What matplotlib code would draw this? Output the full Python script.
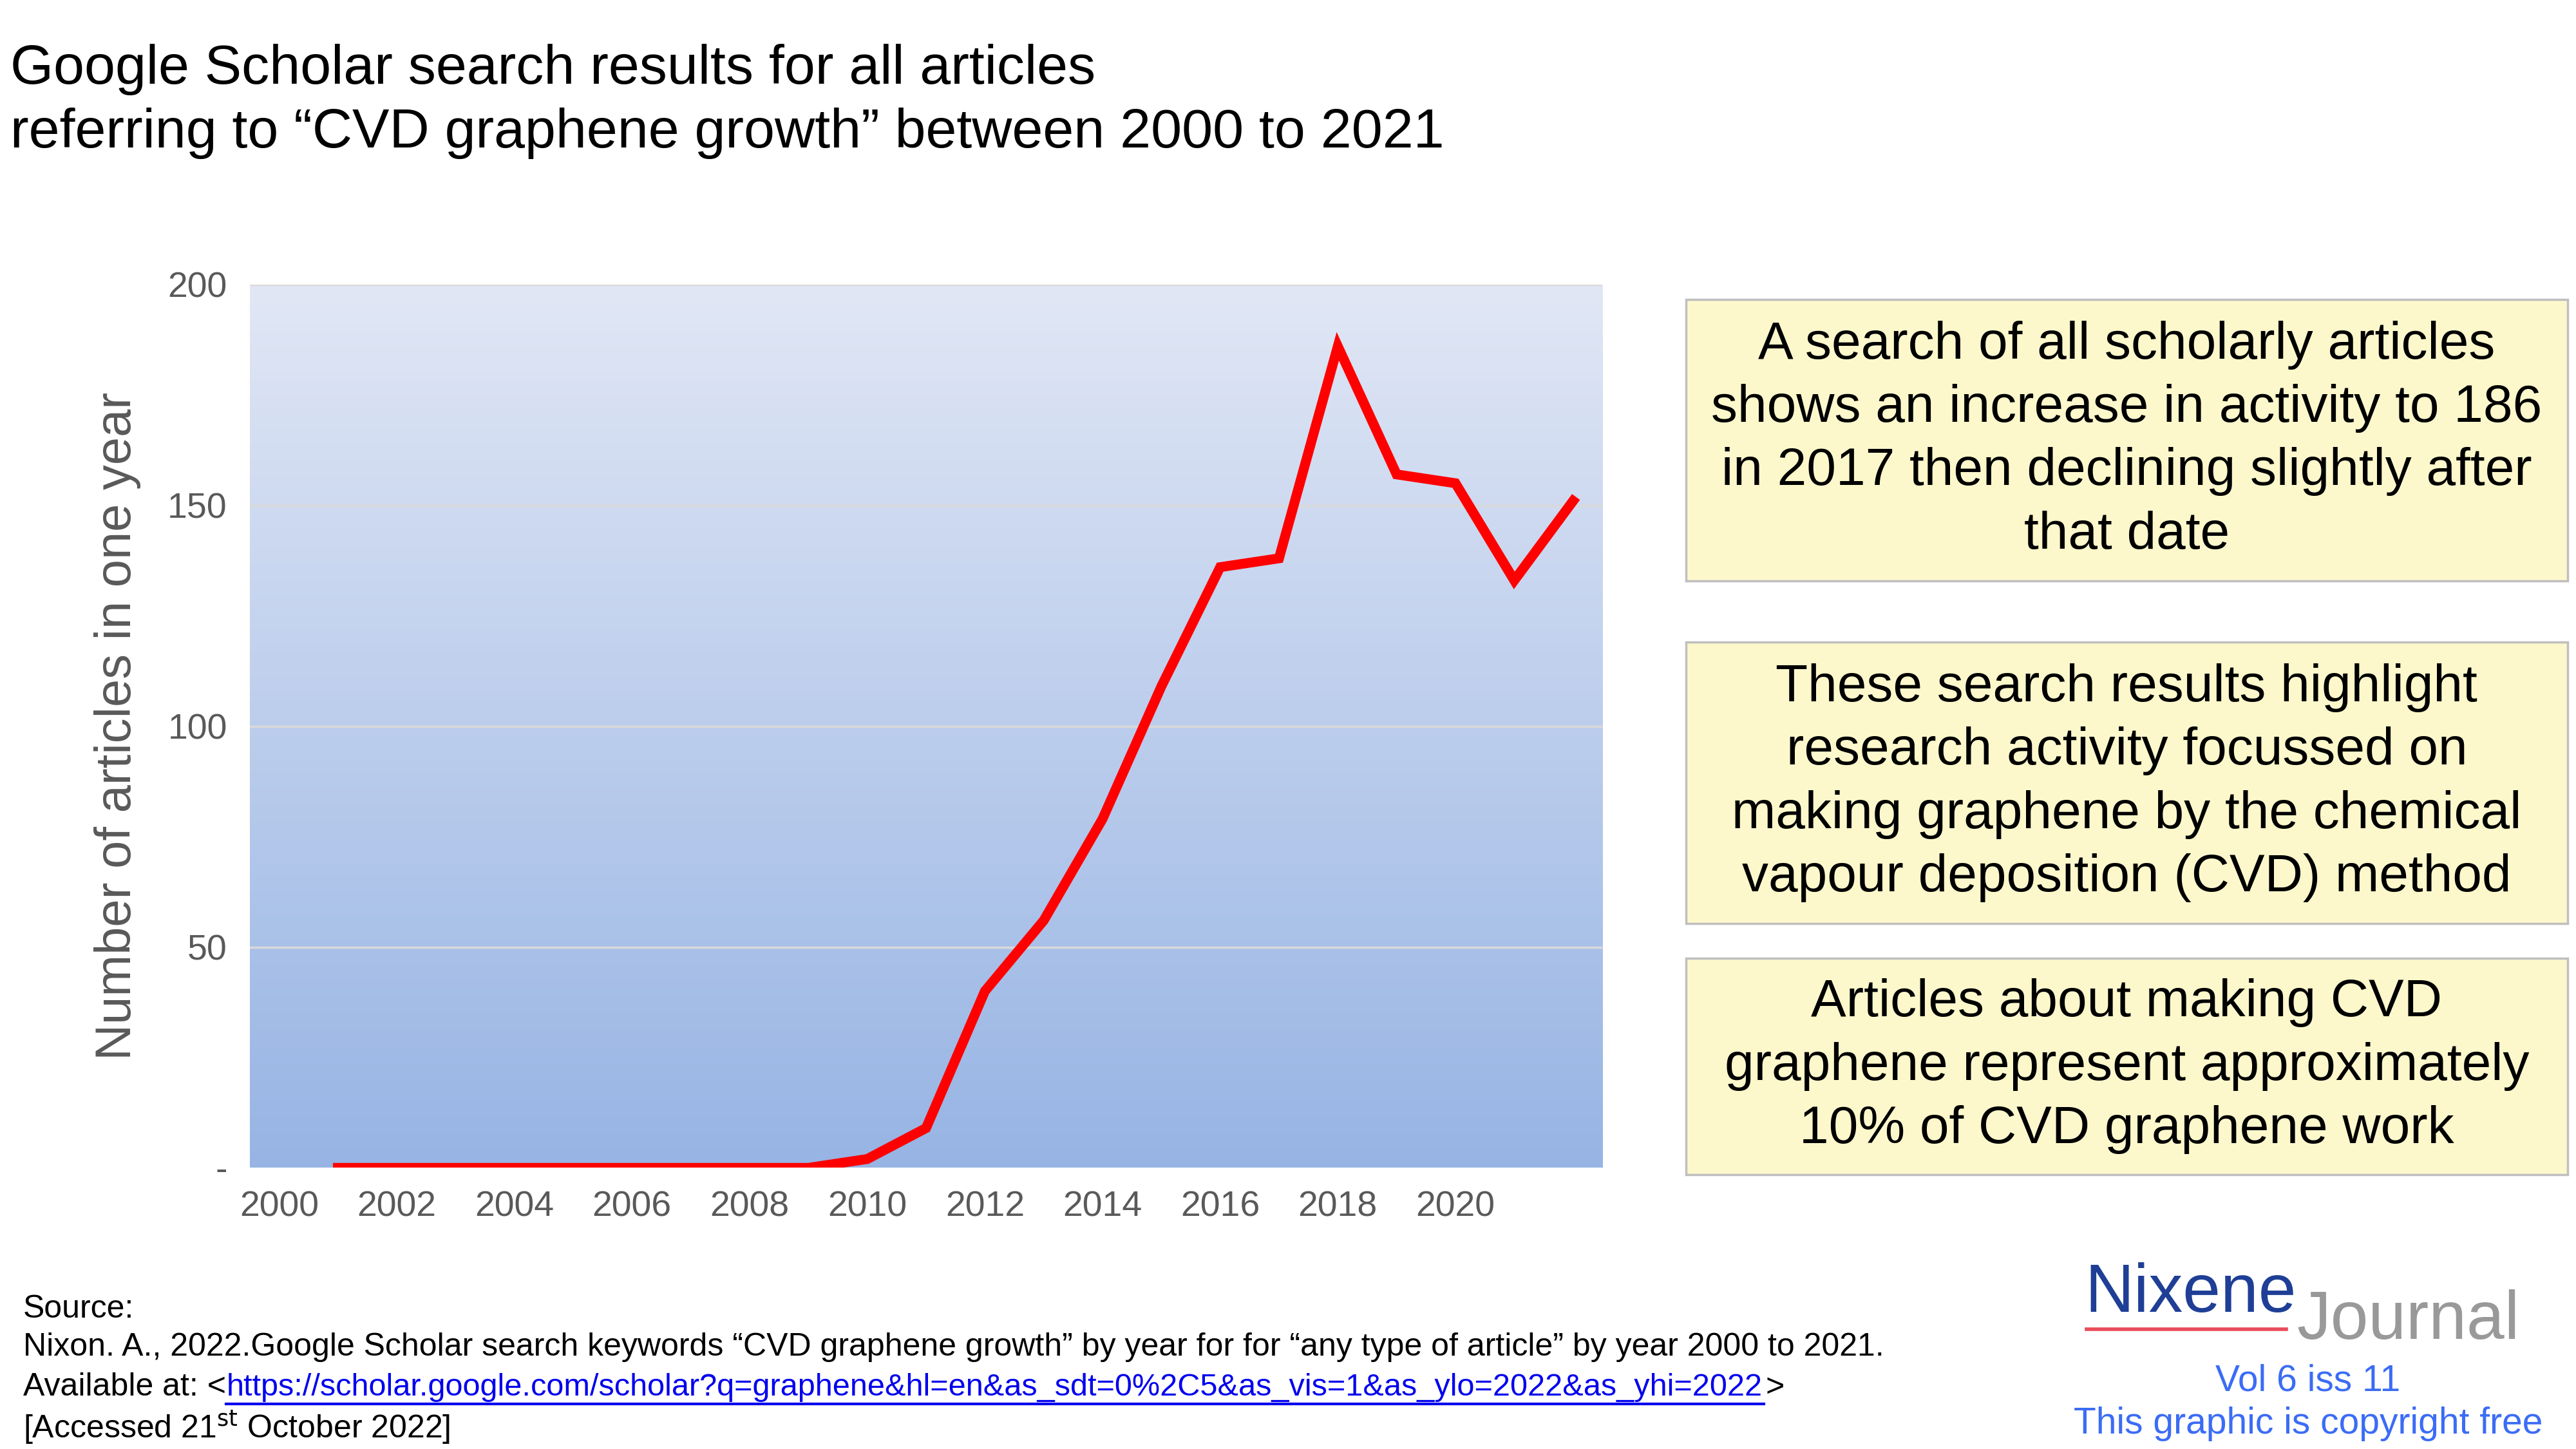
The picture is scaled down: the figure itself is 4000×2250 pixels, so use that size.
import numpy as np
import matplotlib.pyplot as plt
from matplotlib.colors import LinearSegmentedColormap
from matplotlib.patches import Rectangle

plt.rcParams["font.family"] = "Liberation Sans"

years = list(range(2001, 2023))
articles = [0, 0, 0, 0, 0, 0, 0, 0, 0, 2, 9, 40, 56, 79, 109, 136, 138, 186, 157, 155, 133, 151]
xticks = list(range(2000, 2021, 2))
yticks = [0, 50, 100, 150, 200]
ytick_labels = ["-", "50", "100", "150", "200"]

title = ("Google Scholar search results for all articles\n"
         "referring to \u201cCVD graphene growth\u201d between 2000 to 2021")
notes = [
    "A search of all scholarly articles\nshows an increase in activity to 186\nin 2017 then declining slightly after\nthat date",
    "These search results highlight\nresearch activity focussed on\nmaking graphene by the chemical\nvapour deposition (CVD) method",
    "Articles about making CVD\ngraphene represent approximately\n10% of CVD graphene work",
]

W, H = 1548, 871  # layout measured on the displayed reference
fig = plt.figure(figsize=(40, 22.5), dpi=100)

def fx(x): return x / W
def fy(y): return 1 - y / H

ax = fig.add_axes([fx(150), fy(702), fx(963) - fx(150), fy(171) - fy(702)])
cmap = LinearSegmentedColormap.from_list("bg", ["#97b4e4", "#e1e7f5"])
ax.imshow(np.linspace(0, 1, 256).reshape(-1, 1), cmap=cmap, aspect="auto",
          extent=[1999.5, 2022.5, 0, 200], origin="lower", zorder=0)
for v in yticks[1:]:
    ax.axhline(v, color="#d9d9d9", lw=2.5, zorder=1)
ax.plot(years, articles, color="#ff0000", lw=11, zorder=3, solid_joinstyle="miter")
ax.set_xlim(1999.5, 2022.5)
ax.set_ylim(0, 200)
ax.set_xticks(xticks)
ax.set_yticks(yticks, ytick_labels)
ax.tick_params(length=0, labelsize=40, labelcolor="#595959", pad=25)
for s in ax.spines.values():
    s.set_visible(False)
ax.set_ylabel("Number of articles in one year", fontsize=56, color="#595959", labelpad=30)

fig.text(fx(6), fy(61), title, fontsize=62, va="center", ha="left", linespacing=1.3)

boxes = [(180, 349), (386, 555), (576, 706)]
for (y0, y1), txt in zip(boxes, notes):
    fig.patches.append(Rectangle((fx(1013), fy(y1)), fx(1543) - fx(1013), fy(y0) - fy(y1),
                                 transform=fig.transFigure, facecolor="#fdf8cc",
                                 edgecolor="#bfbfbf", lw=2.5))
    fig.text(fx(1278), fy((y0 + y1) / 2), txt, fontsize=59, ha="center", va="center",
             linespacing=1.38)

src_y = [787, 810, 834, 858]
fig.text(fx(14), fy(src_y[0]), "Source:", fontsize=36, va="center")
fig.text(fx(14), fy(src_y[1]),
         "Nixon. A., 2022.Google Scholar search keywords \u201cCVD graphene growth\u201d by year for for "
         "\u201cany type of article\u201d by year 2000 to 2021.", fontsize=36, va="center")
fig.text(fx(14), fy(src_y[2]), "Available at: <", fontsize=36, va="center")
fig.text(fx(136), fy(src_y[2]),
         "https://scholar.google.com/scholar?q=graphene&hl=en&as_sdt=0%2C5&as_vis=1&as_ylo=2022&as_yhi=2022",
         fontsize=35, va="center", color="#0000ee")
fig.add_artist(plt.Line2D([fx(136), fx(1060)], [fy(844), fy(844)], color="#0000ee",
                          lw=3, transform=fig.transFigure))
fig.text(fx(1061), fy(src_y[2]), ">", fontsize=36, va="center")
fig.text(fx(14), fy(src_y[3]), "[Accessed 21$^{\\mathrm{st}}$ October 2022]", fontsize=36, va="center")

fig.text(fx(1253), fy(778), "Nixene", fontsize=76, color="#1f3f96", va="center")
fig.text(fx(1380), fy(794), "Journal", fontsize=76, color="#999999", va="center")
fig.add_artist(plt.Line2D([fx(1254), fx(1374)], [fy(799), fy(799)], color="#e84c5a",
                          lw=4, transform=fig.transFigure))
fig.text(fx(1387), fy(830), "Vol 6 iss 11", fontsize=41, color="#3b6cf6", ha="center", va="center")
fig.text(fx(1387), fy(856), "This graphic is copyright free", fontsize=41, color="#3b6cf6",
         ha="center", va="center")

fig.savefig("out.png", dpi=100)
